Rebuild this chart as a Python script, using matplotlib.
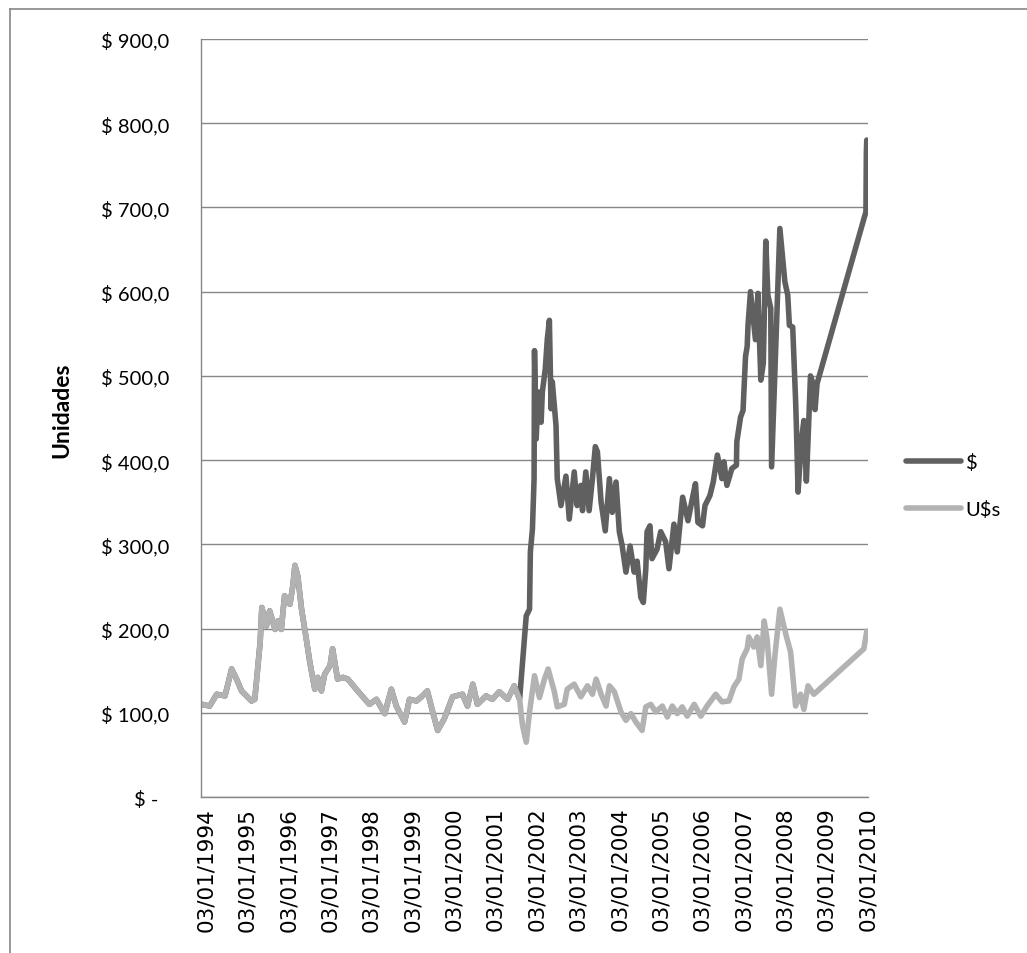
import numpy as np
import matplotlib
matplotlib.use('Agg')
import matplotlib.pyplot as plt
from matplotlib.lines import Line2D
from matplotlib.ticker import FuncFormatter

# Tramo 1994-2001: ambas series coinciden (1 $ = 1 U$s)
fecha_comun = [1993.90, 1994.09, 1994.26, 1994.46, 1994.62, 1994.74, 1994.86, 1995.10,
               1995.18, 1995.31, 1995.35, 1995.46, 1995.54, 1995.67, 1995.74, 1995.82,
               1995.90, 1996.03, 1996.10, 1996.15, 1996.22, 1996.31, 1996.43, 1996.51,
               1996.63, 1996.70, 1996.79, 1996.87, 1997.00, 1997.06, 1997.18, 1997.31,
               1997.43, 1997.63, 1997.79, 1997.95, 1998.12, 1998.32, 1998.48, 1998.60,
               1998.80, 1998.92, 1999.09, 1999.23, 1999.35, 1999.48, 1999.60, 1999.76,
               1999.96, 2000.20, 2000.32, 2000.45, 2000.56, 2000.77, 2000.92, 2001.09,
               2001.29, 2001.45, 2001.58]
valor_comun = [110, 108, 122, 120, 152, 140, 126, 114,
               116, 184, 225, 203, 221, 199, 209, 199,
               239, 229, 251, 275, 262, 223, 186, 160,
               128, 142, 126, 146, 156, 176, 140, 142,
               140, 128, 119, 110, 116, 99, 128, 108,
               89, 116, 114, 120, 126, 101, 79, 93,
               119, 122, 108, 134, 110, 120, 116, 125,
               116, 132, 116]

# Serie en dolares despues de 2002
fecha_usd = [2001.65, 2001.74, 2001.82, 2001.94, 2002.06, 2002.18, 2002.27, 2002.42,
             2002.49, 2002.66, 2002.73, 2002.90, 2003.06, 2003.22, 2003.34, 2003.43,
             2003.55, 2003.67, 2003.75, 2003.87, 2004.03, 2004.15, 2004.27, 2004.39,
             2004.54, 2004.63, 2004.75, 2004.87, 2005.03, 2005.15, 2005.27, 2005.39,
             2005.51, 2005.63, 2005.80, 2005.96, 2006.11, 2006.32, 2006.47, 2006.64,
             2006.76, 2006.88, 2006.96, 2007.08, 2007.12, 2007.24, 2007.32, 2007.41,
             2007.49, 2007.56, 2007.67, 2007.75, 2007.87, 2008.01, 2008.13, 2008.25,
             2008.37, 2008.45, 2008.55, 2008.69, 2008.76, 2009.90, 2009.97]
valor_usd = [85, 65, 101, 144, 118, 140, 152, 125,
             107, 110, 128, 134, 119, 132, 122, 140,
             122, 108, 132, 125, 101, 91, 99, 89,
             79, 107, 110, 101, 108, 95, 108, 99,
             107, 96, 110, 96, 108, 122, 113, 114,
             131, 140, 164, 176, 190, 178, 190, 156,
             209, 188, 122, 168, 223, 194, 172, 108,
             122, 104, 132, 122, 125, 176, 197]

# Serie en pesos despues de 2002
fecha_pesos = [2001.65, 2001.70, 2001.74, 2001.82, 2001.84, 2001.89, 2001.93, 2001.94,
               2001.98, 2002.03, 2002.10, 2002.13, 2002.20, 2002.25, 2002.30, 2002.34,
               2002.37, 2002.46, 2002.49, 2002.58, 2002.70, 2002.78, 2002.90, 2002.97,
               2003.06, 2003.10, 2003.18, 2003.26, 2003.34, 2003.41, 2003.46, 2003.55,
               2003.65, 2003.75, 2003.82, 2003.91, 2003.99, 2004.06, 2004.15, 2004.25,
               2004.35, 2004.42, 2004.51, 2004.57, 2004.63, 2004.66, 2004.73, 2004.78,
               2004.90, 2004.99, 2005.11, 2005.19, 2005.31, 2005.39, 2005.52, 2005.65,
               2005.77, 2005.83, 2005.89, 2006.00, 2006.06, 2006.18, 2006.26, 2006.36,
               2006.47, 2006.52, 2006.59, 2006.71, 2006.82, 2006.83, 2006.92, 2006.98,
               2007.04, 2007.08, 2007.10, 2007.16, 2007.28, 2007.34, 2007.41, 2007.47,
               2007.53, 2007.58, 2007.65, 2007.67, 2007.87, 2007.99, 2008.06, 2008.10,
               2008.18, 2008.25, 2008.27, 2008.31, 2008.39, 2008.45, 2008.51, 2008.55,
               2008.61, 2008.67, 2008.72, 2008.77, 2009.95, 2009.96, 2009.97]
valor_pesos = [160, 192, 215, 223, 291, 318, 378, 530,
               425, 481, 445, 481, 508, 544, 566, 461,
               493, 441, 378, 346, 381, 330, 386, 346,
               370, 340, 386, 340, 378, 416, 410, 350,
               316, 378, 338, 374, 315, 298, 267, 298,
               267, 280, 237, 231, 271, 315, 322, 283,
               294, 315, 303, 271, 324, 291, 356, 328,
               358, 372, 326, 322, 346, 358, 374, 406,
               378, 398, 370, 390, 394, 422, 451, 459,
               523, 535, 560, 600, 543, 598, 495, 515,
               660, 596, 580, 392, 675, 612, 596, 560,
               558, 471, 439, 362, 423, 447, 375, 423,
               500, 491, 460, 491, 695, 765, 780]

anios = list(range(1994, 2011))
etiquetas = ['03/01/%d' % a for a in anios]

x_pesos = np.array(fecha_comun + fecha_pesos)
y_pesos = np.array(valor_comun + valor_pesos)
x_usd = np.array(fecha_comun + fecha_usd)
y_usd = np.array(valor_comun + valor_usd)

gris = '#868686'

fig = plt.figure(figsize=(10.27, 9.54), dpi=100)
ax = fig.add_axes([201 / 1027, 1 - 798 / 954, 667 / 1027, 758 / 954])

ax.plot(x_pesos, y_pesos, color='#606060', lw=4.0, label='$',
        solid_joinstyle='round', solid_capstyle='round')
ax.plot(x_usd, y_usd, color='#b2b2b2', lw=4.0, label='U$s',
        solid_joinstyle='round', solid_capstyle='round')

ax.set_ylim(0, 900)
ax.set_xlim(1993.88, 2009.97)
ax.set_yticks(range(0, 1000, 100))
ax.yaxis.grid(True, color=gris, lw=1.0)
ax.set_axisbelow(True)


def formato_pesos(v, pos):
    if v == 0:
        return '$ -  '
    return ('$ %.1f' % v).replace('.', ',')


ax.yaxis.set_major_formatter(FuncFormatter(formato_pesos))
ax.set_xticks(anios)
ax.set_xticklabels(etiquetas, rotation=90, fontfamily='DejaVu Sans', fontsize=15.5)
ax.tick_params(axis='x', length=0, pad=7)
ax.tick_params(axis='y', length=0, pad=23, labelsize=14.5)
for lab in ax.get_yticklabels():
    lab.set_fontfamily('Lato')

for s in ['top', 'right']:
    ax.spines[s].set_visible(False)
for s in ['left', 'bottom']:
    ax.spines[s].set_color(gris)
    ax.spines[s].set_linewidth(1.0)

fig.text(62 / 1027, 1 - 410 / 954, 'Unidades', rotation=90, ha='center', va='center',
         fontsize=16.5, fontweight='bold', fontfamily='Lato')

ax.legend(loc='upper left', bbox_to_anchor=(888 / 1027, 1 - 436 / 954),
          bbox_transform=fig.transFigure, frameon=False, handlelength=2.7,
          handletextpad=0.25, labelspacing=1.45, prop={'family': 'Lato', 'size': 14.5})

# marco del grafico (solo borde superior e izquierdo visibles)
fig.add_artist(Line2D([9.5 / 1027, 1], [1 - 9.5 / 954, 1 - 9.5 / 954],
                      transform=fig.transFigure, color=gris, lw=1.2))
fig.add_artist(Line2D([9.5 / 1027, 9.5 / 1027], [0, 1 - 9.5 / 954],
                      transform=fig.transFigure, color=gris, lw=1.2))

fig.savefig('out.png', dpi=100)
